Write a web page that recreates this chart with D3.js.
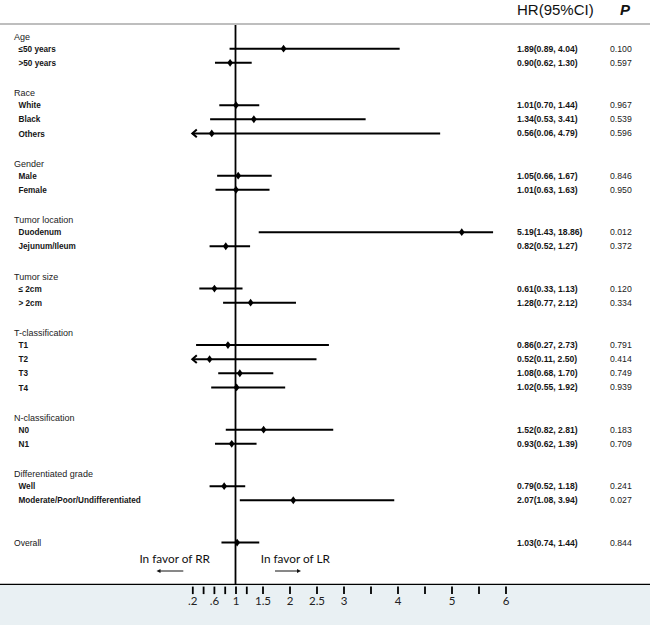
<!DOCTYPE html>
<html><head><meta charset="utf-8">
<script src="https://cdn.jsdelivr.net/npm/d3@7"></script>
<style>html,body{margin:0;padding:0;background:#fff;}svg{display:block;}</style>
</head><body>
<svg id="chart" width="650" height="625"></svg>
<script>
const groupNames = ["Age","Race","Gender","Tumor location","Tumor size","T-classification","N-classification","Differentiated grade"];
const rowLabels = ["≤50 years",">50 years","White","Black","Others","Male","Female","Duodenum","Jejunum/Ileum","≤ 2cm","> 2cm","T1","T2","T3","T4","N0","N1","Well","Moderate/Poor/Undifferentiated","Overall"];
const rowGroup = [0,0,1,1,1,2,2,3,3,4,4,5,5,5,5,6,6,7,7,-1];
const hrValues = [1.89,0.90,1.01,1.34,0.56,1.05,1.01,5.19,0.82,0.61,1.28,0.86,0.52,1.08,1.02,1.52,0.93,0.79,2.07,1.03];
const ciLower  = [0.89,0.62,0.70,0.53,0.06,0.66,0.63,1.43,0.52,0.33,0.77,0.27,0.11,0.68,0.55,0.82,0.62,0.52,1.08,0.74];
const ciUpper  = [4.04,1.30,1.44,3.41,4.79,1.67,1.63,18.86,1.27,1.13,2.12,2.73,2.50,1.70,1.92,2.81,1.39,1.18,3.94,1.44];
const pValues  = ["0.100","0.597","0.967","0.539","0.596","0.846","0.950","0.012","0.372","0.120","0.334","0.791","0.414","0.749","0.939","0.183","0.709","0.241","0.027","0.844"];
const tickValues = [0.2,0.4,0.6,0.8,1,1.2,1.5,2,2.5,3,3.5,4,4.5,5,5.5,6];
const tickLabels = {0.2:".2",0.6:".6",1:"1",1.5:"1.5",2:"2",2.5:"2.5",3:"3",4:"4",5:"5",6:"6"};
const displayMin = 0.2, displayMax = 5.77;

const svg = d3.select("#chart");
const W = 650, H = 625;
const x = d3.scaleLinear().domain([0.2, 6]).range([192.3, 505.5]);

// layout rows
const rows = [];
let idx = 0;
groupNames.forEach((g, gi) => {
  rows.push({type:"header", label:g, i:idx++});
  rowLabels.forEach((l, k) => { if (rowGroup[k] === gi) rows.push({type:"item", k, i:idx++}); });
  idx++;
});
idx++;
rowLabels.forEach((l, k) => { if (rowGroup[k] === -1) rows.push({type:"overall", k, i:idx++}); });
const y = d3.scaleLinear().domain([0, 36]).range([34.6, 542.6]);

const axisY = 584.3;
// bottom band
svg.append("rect").attr("x",0).attr("y",axisY).attr("width",W).attr("height",H-axisY).attr("fill","#e9f0f3");
svg.append("line").attr("x1",0).attr("x2",W).attr("y1",axisY).attr("y2",axisY).attr("stroke","#000").attr("stroke-width",1.2);
// top rule
svg.append("line").attr("x1",0).attr("x2",W).attr("y1",24).attr("y2",24).attr("stroke","#a8a8a8").attr("stroke-width",1.5);

// header
svg.append("text").attr("x",517).attr("y",10).attr("dy","0.35em").attr("font-family","Liberation Sans, Arial, sans-serif")
  .attr("font-size",15).attr("fill","#111").text("HR(95%CI)");
svg.append("text").attr("x",620).attr("y",10).attr("dy","0.35em").attr("font-family","Liberation Sans, Arial, sans-serif")
  .attr("font-size",15).attr("font-weight","bold").attr("font-style","italic").attr("fill","#111").text("P");

// ticks
const axis = d3.axisBottom(x).tickValues(tickValues).tickSize(7.5).tickPadding(3).tickFormat(d => tickLabels[d] || "");
const ag = svg.append("g").attr("transform",`translate(0,${axisY+2.3})`).call(axis);
ag.select(".domain").remove();
ag.selectAll(".tick line").attr("stroke","#000").attr("stroke-width",1.8);
ag.selectAll(".tick text").attr("font-family","Lato, 'Open Sans', sans-serif").attr("font-size",11.5).attr("fill","#222");

// reference line
svg.append("line").attr("x1",x(1)).attr("x2",x(1)).attr("y1",25).attr("y2",axisY).attr("stroke","#000").attr("stroke-width",1.8);

const font = "Liberation Sans, Arial, sans-serif";
rows.forEach(r => {
  const yy = y(r.i);
  if (r.type === "header") {
    svg.append("text").attr("x",14).attr("y",yy+2).attr("dy","0.35em").attr("font-family",font).attr("font-size",9).attr("fill","#222").text(r.label);
    return;
  }
  const k = r.k;
  const isOverall = r.type === "overall";
  svg.append("text").attr("x", isOverall ? 14 : 18.5).attr("y",yy+ (isOverall?0:0.3)).attr("dy","0.35em").attr("font-family",font)
    .attr("font-size", isOverall ? 8.6 : 8.2).attr("font-weight", isOverall ? "normal" : "bold").attr("fill","#151515").text(rowLabels[k]);
  svg.append("text").attr("x",517).attr("y",yy).attr("dy","0.35em").attr("font-family",font).attr("font-size",8.6)
    .attr("font-weight","bold").attr("fill","#151515")
    .text(`${hrValues[k].toFixed(2)}(${ciLower[k].toFixed(2)}, ${ciUpper[k].toFixed(2)})`);
  svg.append("text").attr("x",610).attr("y",yy).attr("dy","0.35em").attr("font-family",font).attr("font-size",8.7)
    .attr("fill","#222").text(pValues[k]);
  const lo = Math.max(ciLower[k], displayMin), hi = Math.min(ciUpper[k], displayMax);
  svg.append("line").attr("x1",x(lo)).attr("x2",x(hi)).attr("y1",yy).attr("y2",yy).attr("stroke","#000").attr("stroke-width",2);
  if (ciLower[k] < displayMin) {
    const ax = x(displayMin);
    svg.append("path").attr("d",`M${ax+4.5},${yy-3.8}L${ax},${yy}L${ax+4.5},${yy+3.8}`).attr("fill","none").attr("stroke","#000").attr("stroke-width",2);
  }
  const cx = x(hrValues[k]);
  svg.append("path").attr("d",`M${cx},${yy-3.9}L${cx+2.9},${yy}L${cx},${yy+3.9}L${cx-2.9},${yy}Z`).attr("fill","#000");
});

// favor annotations
const fontA = "Lato, 'Open Sans', sans-serif";
svg.append("text").attr("x",210).attr("y",559).attr("dy","0.35em").attr("text-anchor","end").attr("font-family",fontA).attr("font-size",11.8).attr("fill","#111").text("In favor of RR");
svg.append("text").attr("x",260.7).attr("y",559).attr("dy","0.35em").attr("font-family",fontA).attr("font-size",11.8).attr("fill","#111").text("In favor of LR");
svg.append("line").attr("x1",159).attr("x2",183.3).attr("y1",571).attr("y2",571).attr("stroke","#111").attr("stroke-width",1);
svg.append("path").attr("d","M156.5,571L160.5,569L160.5,573Z").attr("fill","#111");
svg.append("line").attr("x1",275).attr("x2",298.5).attr("y1",571).attr("y2",571).attr("stroke","#111").attr("stroke-width",1);
svg.append("path").attr("d","M301,571L297,569L297,573Z").attr("fill","#111");
</script>
</body></html>
